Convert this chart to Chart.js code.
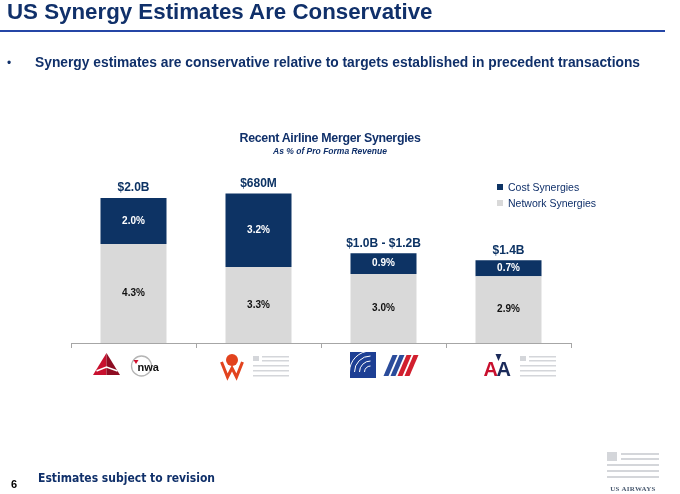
<!DOCTYPE html>
<html>
<head>
<meta charset="utf-8">
<title>US Synergy Estimates Are Conservative</title>
<script src="https://cdn.jsdelivr.net/npm/chart.js@4.4.1/dist/chart.umd.min.js"></script>
<style>
  html, body { margin: 0; padding: 0; background: #fff; }
  body { width: 680px; height: 494px; position: relative; overflow: hidden;
         font-family: "Liberation Sans", Arial, sans-serif; color: #10306a; }
  #chart { position: absolute; left: 0; top: 0; }
  .abs { position: absolute; white-space: nowrap; }
  #title { left: 7px; top: -1px; font-size: 22.3px; font-weight: bold; }
  #rule { left: 0; top: 30px; width: 665px; height: 2px; background: #2546a6; }
  #bullet-dot { left: 7px; top: 56px; font-size: 12px; }
  #bullet { left: 35px; top: 55px; font-size: 13.8px; font-weight: bold; }
  #ctitle { left: 230px; width: 200px; text-align: center; top: 131px; font-size: 12.4px; font-weight: bold; letter-spacing: -0.3px; }
  #csub { left: 230px; width: 200px; text-align: center; top: 146px; font-size: 8.5px; font-weight: bold; font-style: italic; }
  #legend { left: 497px; top: 179px; font-size: 10.5px; }
  #legend div { height: 16px; line-height: 16px; }
  #legend span.sw { display: inline-block; width: 6px; height: 6px; margin-right: 5px; vertical-align: 1px; }
  #pageno { left: 11px; top: 478px; font-size: 11px; font-weight: bold; color: #000; }
  #note { left: 38px; top: 471px; font-size: 12px; font-weight: bold; font-family: "DejaVu Sans Condensed", "Liberation Sans", sans-serif; }
  .stripe { position: absolute; background: #d4d6da; height: 2px; }
  #usa { left: 604px; top: 485px; width: 58px; text-align: center; font-family: "Liberation Serif", serif; font-size: 7px; font-weight: bold; color: #4a5a70; letter-spacing: 0.3px; }
</style>
</head>
<body>
<canvas id="chart" width="680" height="494"></canvas>
<div class="abs" id="title">US Synergy Estimates Are Conservative</div>
<div class="abs" id="rule"></div>
<div class="abs" id="bullet-dot">&bull;</div>
<div class="abs" id="bullet">Synergy estimates are conservative relative to targets established in precedent transactions</div>
<div class="abs" id="ctitle">Recent Airline Merger Synergies</div>
<div class="abs" id="csub">As % of Pro Forma Revenue</div>
<div class="abs" id="legend"></div>
<div class="abs" id="pageno">6</div>
<div class="abs" id="note">Estimates subject to revision</div>
<div class="abs" style="left:607px;top:452px;width:10px;height:9px;background:#d4d6da"></div>
<div class="stripe" style="left:621px;top:453px;width:38px"></div>
<div class="stripe" style="left:621px;top:458px;width:38px"></div>
<div class="stripe" style="left:607px;top:464px;width:52px"></div>
<div class="stripe" style="left:607px;top:470px;width:52px"></div>
<div class="stripe" style="left:607px;top:476px;width:52px"></div>
<div class="abs" id="usa">US AIRWAYS</div>

<script>
// mergers, left to right
const categories = ['Delta / Northwest', 'Southwest / AirTran', 'United / Continental', 'American / US Airways'];
// % of pro forma revenue
const networkSynergies = [4.3, 3.3, 3.0, 2.9];
const costSynergies = [2.0, 3.2, 0.9, 0.7];
// dollar totals printed above each bar
const totalLabels = ['$2.0B', '$680M', '$1.0B - $1.2B', '$1.4B'];
const seriesNames = ['Network Synergies', 'Cost Synergies'];

const NAVY = '#0d3364';
const GREY = '#d9d9d9';
const AXIS = '#a6a6a6';
const FONT = '"Liberation Sans", Arial, sans-serif';

// value labels inside segments + totals above bars
const barLabels = {
  id: 'barLabels',
  afterDatasetsDraw(chart) {
    const ctx = chart.ctx;
    ctx.save();
    ctx.textAlign = 'center';
    ctx.textBaseline = 'middle';
    chart.data.datasets.forEach((ds, di) => {
      const meta = chart.getDatasetMeta(di);
      meta.data.forEach((bar, i) => {
        ctx.font = 'bold 10px ' + FONT;
        ctx.fillStyle = di === 1 ? '#ffffff' : '#111111';
        ctx.fillText(ds.data[i].toFixed(1) + '%', bar.x, (bar.y + bar.base) / 2);
      });
    });
    const top = chart.getDatasetMeta(chart.data.datasets.length - 1);
    ctx.font = 'bold 12px ' + FONT;
    ctx.fillStyle = NAVY;
    top.data.forEach((bar, i) => {
      ctx.fillText(totalLabels[i], bar.x, bar.y - 10);
    });
    ctx.restore();
  }
};

// rough airline marks under each category
function grayMark(ctx, x, y) {
  ctx.fillStyle = '#d4d6da';
  ctx.fillRect(x, y, 6, 5);
  ctx.fillRect(x + 9, y, 27, 1.5);
  ctx.fillRect(x + 9, y + 4, 27, 1.5);
  ctx.fillRect(x, y + 9, 36, 1.5);
  ctx.fillRect(x, y + 14, 36, 1.5);
  ctx.fillRect(x, y + 19, 36, 1.5);
}

const logoDrawers = [
  function (ctx, cx) {
    // delta widget
    ctx.fillStyle = '#c8102e';
    ctx.beginPath(); ctx.moveTo(cx - 27, 353); ctx.lineTo(cx - 40.5, 375); ctx.lineTo(cx - 27, 375); ctx.closePath(); ctx.fill();
    ctx.fillStyle = '#8e0c22';
    ctx.beginPath(); ctx.moveTo(cx - 27, 353); ctx.lineTo(cx - 13.5, 375); ctx.lineTo(cx - 27, 375); ctx.closePath(); ctx.fill();
    ctx.strokeStyle = '#fff'; ctx.lineWidth = 1.5;
    ctx.beginPath(); ctx.moveTo(cx - 37, 371); ctx.lineTo(cx - 27, 367); ctx.lineTo(cx - 16, 371); ctx.stroke();
    // nwa
    ctx.strokeStyle = '#b5b5b5'; ctx.lineWidth = 1.3;
    ctx.beginPath(); ctx.arc(cx + 8, 366, 10, 0, Math.PI * 2); ctx.stroke();
    ctx.fillStyle = '#d0102e';
    ctx.beginPath(); ctx.moveTo(cx + 0, 360); ctx.lineTo(cx + 5, 360); ctx.lineTo(cx + 2.5, 364); ctx.closePath(); ctx.fill();
    ctx.fillStyle = '#111'; ctx.font = 'bold 11px ' + FONT; ctx.textAlign = 'left'; ctx.textBaseline = 'alphabetic';
    ctx.fillText('nwa', cx + 4, 371);
  },
  function (ctx, cx) {
    ctx.fillStyle = '#e2431e';
    ctx.beginPath(); ctx.arc(cx - 26.5, 360, 6, 0, Math.PI * 2); ctx.fill();
    ctx.strokeStyle = '#e2431e'; ctx.lineWidth = 3;
    ctx.beginPath();
    ctx.moveTo(cx - 37, 362); ctx.lineTo(cx - 31, 377); ctx.lineTo(cx - 26.5, 368); ctx.lineTo(cx - 22, 377); ctx.lineTo(cx - 16, 362);
    ctx.stroke();
    grayMark(ctx, cx - 5.5, 356);
  },
  function (ctx, cx) {
    ctx.fillStyle = '#1d3f94';
    ctx.fillRect(cx - 33.5, 352, 26, 26);
    ctx.strokeStyle = '#ffffff'; ctx.lineWidth = 1;
    for (let k = 0; k < 4; k++) {
      ctx.beginPath(); ctx.arc(cx - 13, 372, 6 + k * 5, Math.PI, Math.PI * 1.5); ctx.stroke();
    }
    const stripes = ['#2b4c9b', '#2b4c9b', '#d11f2e', '#d11f2e'];
    stripes.forEach((c, k) => {
      ctx.fillStyle = c;
      const x0 = cx + 1 + k * 7;
      ctx.beginPath(); ctx.moveTo(x0 + 8, 355); ctx.lineTo(x0 + 13, 355); ctx.lineTo(x0 + 4, 376); ctx.lineTo(x0 - 1, 376); ctx.closePath(); ctx.fill();
    });
  },
  function (ctx, cx) {
    ctx.font = 'bold 20px ' + FONT; ctx.textAlign = 'left'; ctx.textBaseline = 'alphabetic';
    ctx.fillStyle = '#c8102e'; ctx.fillText('A', cx - 25, 376);
    ctx.fillStyle = '#1a2a5a'; ctx.fillText('A', cx - 12, 376);
    ctx.beginPath(); ctx.moveTo(cx - 13, 354); ctx.lineTo(cx - 10, 361); ctx.lineTo(cx - 7, 354); ctx.closePath(); ctx.fill();
    grayMark(ctx, cx + 11.5, 356);
  }
];

const logos = {
  id: 'logos',
  afterDraw(chart) {
    const ctx = chart.ctx;
    const xs = chart.scales.x;
    ctx.save();
    categories.forEach((c, i) => logoDrawers[i](ctx, xs.getPixelForValue(i)));
    ctx.restore();
  }
};

const chart = new Chart(document.getElementById('chart'), {
  type: 'bar',
  data: {
    labels: categories,
    datasets: [
      { label: seriesNames[0], data: networkSynergies, backgroundColor: GREY },
      { label: seriesNames[1], data: costSynergies, backgroundColor: NAVY }
    ]
  },
  options: {
    responsive: false,
    animation: false,
    layout: { padding: { left: 71, right: 109, top: 159, bottom: 111 } },
    datasets: { bar: { barPercentage: 0.528, categoryPercentage: 1.0 } },
    scales: {
      x: {
        stacked: true,
        grid: { offset: true, drawOnChartArea: false, tickLength: 5, color: AXIS },
        border: { color: AXIS, width: 1 },
        ticks: { display: false },
        afterFit(scale) { scale.height = 40; }
      },
      y: { stacked: true, min: 0, max: 8, display: false }
    },
    plugins: { legend: { display: false }, tooltip: { enabled: false } }
  },
  plugins: [barLabels, logos]
});

// legend, cost first like the slide
const legend = document.getElementById('legend');
chart.data.datasets.slice().reverse().forEach((ds) => {
  const row = document.createElement('div');
  row.innerHTML = '<span class="sw" style="background:' + ds.backgroundColor + '"></span>' + ds.label;
  legend.appendChild(row);
});
</script>
</body>
</html>
